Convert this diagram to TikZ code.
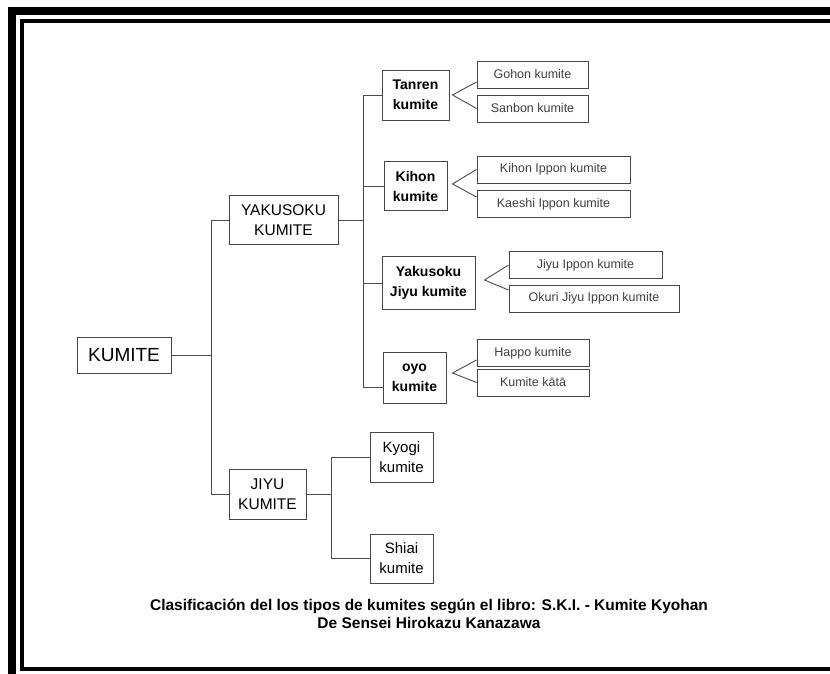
\documentclass[tikz,border=0pt]{standalone}
\usepackage{fontspec}
\setmainfont{Liberation Sans}
\usetikzlibrary{calc}
\begin{document}
\begin{tikzpicture}[x=1pt,y=-1pt,
  box/.style={draw=black!72, line width=0.9pt, inner sep=0pt, align=center, fill=white},
  topbox/.style={box, font=\fontsize{15.5}{20}\selectfont},
  midbox/.style={box, font=\bfseries\fontsize{14}{20}\selectfont},
  lowbox/.style={box, font=\fontsize{15}{20}\selectfont},
  leaf/.style={box, text=black!75, minimum height=27pt, font=\fontsize{12.5}{15}\selectfont},
  conn/.style={draw=black!70, line width=0.9pt}]
\useasboundingbox (0,0) rectangle (830,674);
\fill[white] (0,0) rectangle (830,674);
\begin{scope}
\clip (0,0) rectangle (830,674);
\draw[line width=8pt, line join=miter] (12,690) -- (12,11) -- (850,11);
\draw[line width=4pt, line join=miter] (850,669) -- (22,669) -- (22,21) -- (850,21);
\end{scope}

% nodes
\node[box, minimum width=94pt, minimum height=36pt, font=\fontsize{19}{22}\selectfont] (kumite) at (124,355) {KUMITE};
\node[topbox, minimum width=109pt, minimum height=49pt] (yak) at (283.5,220) {YAKUSOKU\\KUMITE};
\node[topbox, minimum width=77pt, minimum height=50pt] (jiyu) at (267.5,494) {JIYU\\KUMITE};

\node[midbox, minimum width=67pt, minimum height=50pt] (tanren) at (415.5,95) {Tanren\\kumite};
\node[midbox, minimum width=63pt, minimum height=49pt] (kihon) at (415.5,186) {Kihon\\kumite};
\node[midbox, minimum width=93pt, minimum height=53pt] (yj) at (428.5,283) {Yakusoku\\Jiyu kumite};
\node[midbox, minimum width=63pt, minimum height=51pt] (oyo) at (414.5,377.5) {oyo\\kumite};

\node[lowbox, minimum width=63pt, minimum height=50pt] (kyogi) at (401.5,457) {Kyogi\\kumite};
\node[lowbox, minimum width=63pt, minimum height=49pt] (shiai) at (401.5,558.5) {Shiai\\kumite};

\node[leaf, minimum width=111pt] (gohon) at (532.5,74.5) {Gohon kumite};
\node[leaf, minimum width=111pt] (sanbon) at (532.5,108.5) {Sanbon kumite};
\node[leaf, minimum width=153pt] (kip) at (553.5,169.5) {Kihon Ippon kumite};
\node[leaf, minimum width=153pt] (kaeshi) at (553.5,204) {Kaeshi Ippon kumite};
\node[leaf, minimum width=153pt] (jip) at (585.5,265) {Jiyu Ippon kumite};
\node[leaf, minimum width=170pt] (okuri) at (594,298.5) {Okuri Jiyu Ippon kumite};
\node[leaf, minimum width=112pt] (happo) at (533,353) {Happo kumite};
\node[leaf, minimum width=112pt] (kata) at (533,382.5) {Kumite kātā};

\node[align=center, font=\bfseries\fontsize{15.5}{18}\selectfont] (caption) at (429,614)
  {Clasificación del los tipos de kumites según el libro: S.K.I. - Kumite Kyohan\\De Sensei Hirokazu Kanazawa};

% spine coordinates
\coordinate (v1) at (211,0);
\coordinate (v2) at (363,0);
\coordinate (v3) at (331,0);
\coordinate (oyoin) at ($(oyo.west)+(0,9.5)$);

\draw[conn] (kumite.east) -- (kumite.east -| v1);
\draw[conn] (yak.west) -- (yak.west -| v1) |- (jiyu.west);

\draw[conn] (yak.east) -- (yak.east -| v2);
\draw[conn] (tanren.west) -- (tanren.west -| v2) |- (oyoin);
\draw[conn] (kihon.west) -- (kihon.west -| v2);
\draw[conn] (yj.west) -- (yj.west -| v2);

\draw[conn] (jiyu.east) -- (jiyu.east -| v3);
\draw[conn] (kyogi.west) -- (kyogi.west -| v3) |- (shiai.west);

% fans
\coordinate (ta) at ($(tanren.east)+(3,0)$);
\draw[conn] ($(gohon.west)+(0,7.5)$) -- (ta) -- (sanbon.west);
\coordinate (ka) at ($(kihon.east)+(5,-2)$);
\draw[conn] (kip.west) -- (ka) -- ($(kaeshi.west)+(0,-7)$);
\coordinate (ya) at ($(yj.east)+(9,-3)$);
\draw[conn] (jip.west) -- (ya) -- ($(okuri.west)+(0,-8.5)$);
\coordinate (oa) at ($(oyo.east)+(6,-4.5)$);
\draw[conn] ($(happo.west)+(0,7)$) -- (oa) -- (kata.west);
\end{tikzpicture}
\end{document}
